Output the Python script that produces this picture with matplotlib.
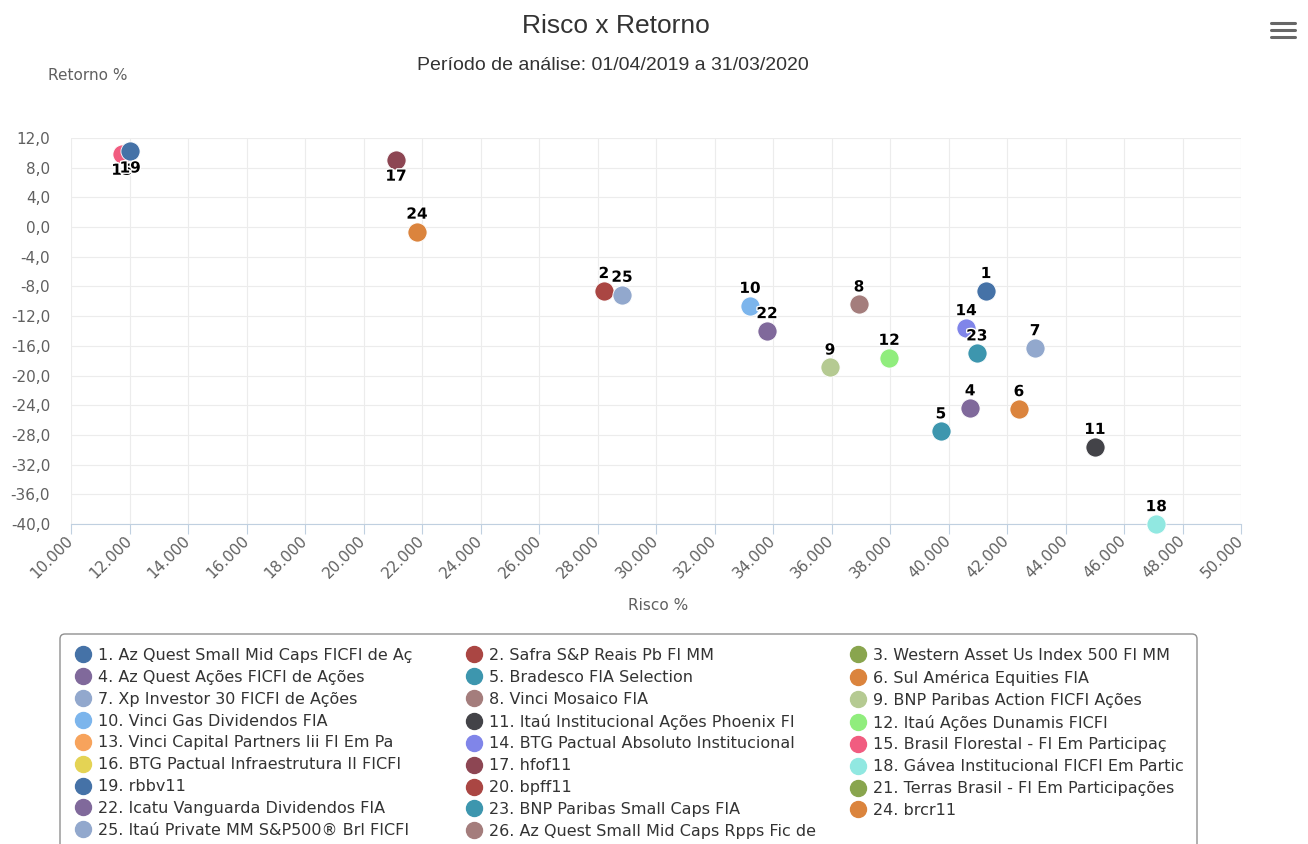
import numpy as np
import matplotlib
matplotlib.use('Agg')
import matplotlib.pyplot as plt
import matplotlib.patheffects as pe
from matplotlib.lines import Line2D
from matplotlib.patches import FancyBboxPatch
from matplotlib.transforms import IdentityTransform

plt.rcParams['font.family'] = ['DejaVu Sans']
NARROW = ['Liberation Sans Narrow', 'Liberation Sans', 'DejaVu Sans']

# fund names (legend order 1..26)
names = ['Az Quest Small Mid Caps FICFI de Aç', 'Safra S&P Reais Pb FI MM',
         'Western Asset Us Index 500 FI MM', 'Az Quest Ações FICFI de Ações',
         'Bradesco FIA Selection', 'Sul América Equities FIA',
         'Xp Investor 30 FICFI de Ações', 'Vinci Mosaico FIA',
         'BNP Paribas Action FICFI Ações', 'Vinci Gas Dividendos FIA',
         'Itaú Institucional Ações Phoenix FI', 'Itaú Ações Dunamis FICFI',
         'Vinci Capital Partners Iii FI Em Pa', 'BTG Pactual Absoluto Institucional',
         'Brasil Florestal - FI Em Participaç', 'BTG Pactual Infraestrutura II FICFI',
         'hfof11', 'Gávea Institucional FICFI Em Partic', 'rbbv11', 'bpff11',
         'Terras Brasil - FI Em Participações', 'Icatu Vanguarda Dividendos FIA',
         'BNP Paribas Small Caps FIA', 'brcr11',
         'Itaú Private MM S&P500® Brl FICFI', 'Az Quest Small Mid Caps Rpps Fic de']

# risk (%) and return (%), nan = not shown on the plot
risco = [41.28, 28.22, np.nan, 40.74, 39.74, 42.41, 42.96, 36.94, 35.95, 33.21,
         45.0, 37.97, np.nan, 40.6, 11.74, np.nan, 21.11, 47.1, 12.02, np.nan,
         np.nan, 33.8, 40.97, 21.83, 28.84, np.nan]
retorno = [-8.6, -8.6, np.nan, -24.4, -27.5, -24.5, -16.3, -10.4, -18.9, -10.6,
           -29.6, -17.6, np.nan, -13.6, 9.9, np.nan, 9.1, -40.0, 10.2, np.nan,
           np.nan, -14.0, -17.0, -0.6, -9.1, np.nan]

colors = ['#4572A7', '#AA4643', '#89A54E', '#80699B', '#3D96AE', '#DB843D',
          '#92A8CD', '#A47D7C', '#B5CA92', '#7cb5ec', '#434348', '#90ed7d',
          '#f7a35c', '#8085e9', '#f15c80', '#e4d354', '#8d4653', '#91e8e1']

W, H = 1308, 844
fig = plt.figure(figsize=(W / 100, H / 100), dpi=100)
ax = fig.add_axes([71 / W, 1 - 524 / H, 1170 / W, 386 / H])

handles = []
for i, (nm, x, y) in enumerate(zip(names, risco, retorno)):
    c = colors[i % len(colors)]
    num = str(i + 1)
    if not np.isnan(x):
        ax.scatter([x], [y], s=190, color=c, edgecolor='white', linewidth=0.6,
                   zorder=3, clip_on=False)
        below = y > 8
        ax.annotate(num, xy=(x, y), xytext=(0, -12 if below else 12.5),
                    textcoords='offset points', ha='center', va='center',
                    fontsize=11, fontweight='bold', color='black', zorder=4,
                    path_effects=[pe.withStroke(linewidth=2, foreground='white')])
    handles.append(Line2D([], [], marker='o', linestyle='none', markersize=11.5,
                          markerfacecolor=c, markeredgecolor=c,
                          label=f'{num}. {nm}'))

ax.set_xlim(10, 50)
ax.set_ylim(-40, 12)
xt = np.arange(10, 51, 2)
yt = np.arange(-40, 13, 4)
ax.set_xticks(xt)
ax.set_yticks(yt)
ax.set_xticklabels([f'{v:.3f}' for v in xt], rotation=45, ha='right', va='center',
                   rotation_mode='anchor', fontsize=11, color='#606060')
ax.set_yticklabels([f'{v:.1f}'.replace('.', ',') for v in yt],
                   fontsize=11, color='#606060')
ax.tick_params(axis='x', length=7, color='#C0D0E0', pad=3)
ax.tick_params(axis='y', length=0, pad=15)
ax.grid(True, color='#ececec', linewidth=0.8)
ax.set_axisbelow(True)
for s in ['left', 'top', 'right']:
    ax.spines[s].set_visible(False)
ax.spines['bottom'].set_color('#C0D0E0')

fig.text(658 / W, 1 - 605 / H, 'Risco %', ha='center', va='center',
         fontsize=11, color='#606060')
fig.text(88 / W, 1 - 75 / H, 'Retorno %', ha='center', va='center',
         fontsize=11, color='#606060')
fig.text(616 / W, 1 - 26 / H, 'Risco x Retorno', ha='center', va='center',
         fontsize=19, color='#333333', family=NARROW)
fig.text(613 / W, 1 - 65 / H, 'Período de análise: 01/04/2019 a 31/03/2020',
         ha='center', va='center', fontsize=14, color='#333333', family=NARROW)

# menu icon
for yy in (23, 30, 37):
    fig.add_artist(Line2D([1271 / W, 1295 / W], [1 - yy / H] * 2,
                          color='#666666', linewidth=2.2, solid_capstyle='round'))

# legend frame (runs past the bottom edge as in the reference)
fig.add_artist(FancyBboxPatch((60, -30), 1137, H - 634 + 30,
                              boxstyle='round,pad=0,rounding_size=5',
                              transform=IdentityTransform(), facecolor='white',
                              edgecolor='#909090', linewidth=1, zorder=0))

# three legend columns, filled row by row
col_x = [83, 474, 858]
for k, cx in enumerate(col_x):
    hs = handles[k::3]
    leg = fig.legend(hs, [h.get_label() for h in hs], loc='upper left',
                     bbox_to_anchor=((cx - 10.7) / W, 1 - 648 / H),
                     fontsize=11.5, frameon=False, handlelength=1.34,
                     handletextpad=0.27, labelspacing=0.43, borderpad=0,
                     borderaxespad=0)
    for t in leg.get_texts():
        t.set_color('#333333')

fig.savefig('out.png', dpi=100)
